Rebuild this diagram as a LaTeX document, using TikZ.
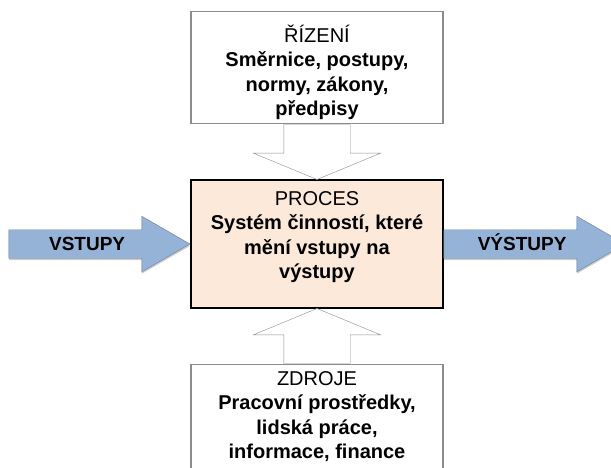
\documentclass[tikz,border=0pt]{standalone}
\usepackage{fontspec}
\setmainfont{Liberation Sans}
\usepackage{tikz}
\usetikzlibrary{shapes.arrows, positioning, shadows}
\definecolor{arrowblue}{HTML}{95B3D7}
\definecolor{arrowedge}{HTML}{6A7D99}
\definecolor{framegray}{HTML}{8C8C8C}
\definecolor{procfill}{HTML}{FDE9D9}
\tikzset{
    infobox/.style={
        rectangle,
        draw=framegray,
        line width=1.2pt,
        minimum width=252pt,
        minimum height=112pt,
        fill=white,
        align=center,
        text depth=0pt,
        font=\fontsize{20}{24.5}\selectfont
    },
    procbox/.style={
        rectangle,
        draw=black,
        line width=1.4pt,
        minimum width=252pt,
        minimum height=128pt,
        fill=procfill,
        align=center,
        text depth=0pt,
        font=\fontsize{20}{24.5}\selectfont
    },
    flowarrow/.style={
        single arrow,
        draw=arrowedge,
        fill=arrowblue,
        thin,
        inner xsep=0pt,
        inner ysep=7.5pt,
        text height=13pt,
        text depth=0pt,
        minimum height=181pt,
        minimum width=55pt,
        single arrow head extend=13.5pt,
        single arrow tip angle=60,
        font=\fontsize{19}{20}\selectfont\bfseries,
        drop shadow={shadow xshift=0pt, shadow yshift=-2pt, opacity=0.4, fill=black!50}
    },
    feedarrow/.style={
        single arrow,
        draw=framegray,
        fill=white,
        thin,
        inner xsep=33pt,
        inner ysep=0pt,
        text height=0pt,
        text depth=0pt,
        minimum height=55pt,
        minimum width=127pt,
        single arrow head extend=30.5pt,
        single arrow tip angle=135,
        shape border rotate=#1
    }
}
\begin{document}
\begin{tikzpicture}[node distance=55pt]
\useasboundingbox (0,0) rectangle (611pt,-468pt);

% Process in the middle
\node[procbox, text height=69pt] (proces) at (317pt,-244pt) {PROCES\\\textbf{Systém činností, které}\\\textbf{mění vstupy na}\\\textbf{výstupy}};

% Control and resources
\node[infobox, above=of proces, text height=96pt] (rizeni) {ŘÍZENÍ\\\textbf{Směrnice, postupy,}\\\textbf{normy, zákony,}\\\textbf{předpisy}};
\node[infobox, below=of proces, text height=77pt] (zdroje) {ZDROJE\\\textbf{Pracovní prostředky,}\\\textbf{lidská práce,}\\\textbf{informace, finance}};

% Inputs and outputs
\node[flowarrow, anchor=tip] (vstupy) at (proces.west) {VSTUPY};
\node[flowarrow, anchor=tail] (vystupy) at (proces.east) {VÝSTUPY};

% Arrows between the boxes
\node[feedarrow=270, anchor=tail] (ridici) at (rizeni.south) {};
\node[feedarrow=90, anchor=tail] (zdrojove) at (zdroje.north) {};

\end{tikzpicture}
\end{document}
